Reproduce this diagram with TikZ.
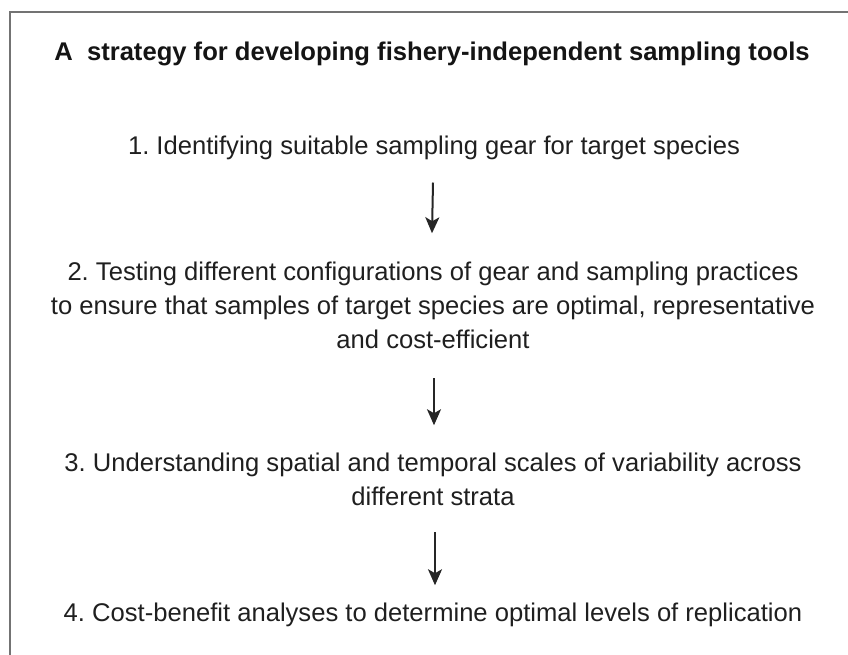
\documentclass[tikz,border=0pt]{standalone}
\usepackage{fontspec}
\setmainfont{Liberation Sans}
\usetikzlibrary{arrows.meta}
\frenchspacing
\begin{document}
\begin{tikzpicture}[x=1pt,y=-1pt,
  item/.style={align=center, font=\fontsize{25.6}{34}\selectfont, text=black!88, inner sep=0pt, anchor=base},
  titletext/.style={item, font=\bfseries\fontsize{25.6}{34}\selectfont, text=black!92},
  arr/.style={-{Stealth[width=14pt,length=16pt,inset=4pt]}, line width=2pt, draw=black!85},
  frameline/.style={draw=black!55, line width=2pt}]
\useasboundingbox (0,0) rectangle (848,655);
\draw[frameline] (10,655) -- (10,12) -- (848,12);
\node[titletext] (title) at (432,61) {A\ \ strategy for developing fishery-independent sampling tools};
\node[item] (s1) at (434,155) {1. Identifying suitable sampling gear for target species};
\node[item] (s2) at (433,348) {2. Testing different configurations of gear and sampling practices\\to ensure that samples of target species are optimal, representative\\and cost-efficient};
\node[item] (s3) at (433,505) {3. Understanding spatial and temporal scales of variability across\\different strata};
\node[item] (s4) at (433,621) {4. Cost-benefit analyses to determine optimal levels of replication};
\draw[arr] ([xshift=-1pt,yshift=-22pt]s1.south) -- ([xshift=-1pt,yshift=28pt]s2.north);
\draw[arr] ([xshift=1pt,yshift=-30pt]s2.south) -- ([xshift=1pt,yshift=27pt]s3.north);
\draw[arr] ([xshift=2pt,yshift=-27pt]s3.south) -- ([xshift=2pt,yshift=17pt]s4.north);
\end{tikzpicture}
\end{document}
